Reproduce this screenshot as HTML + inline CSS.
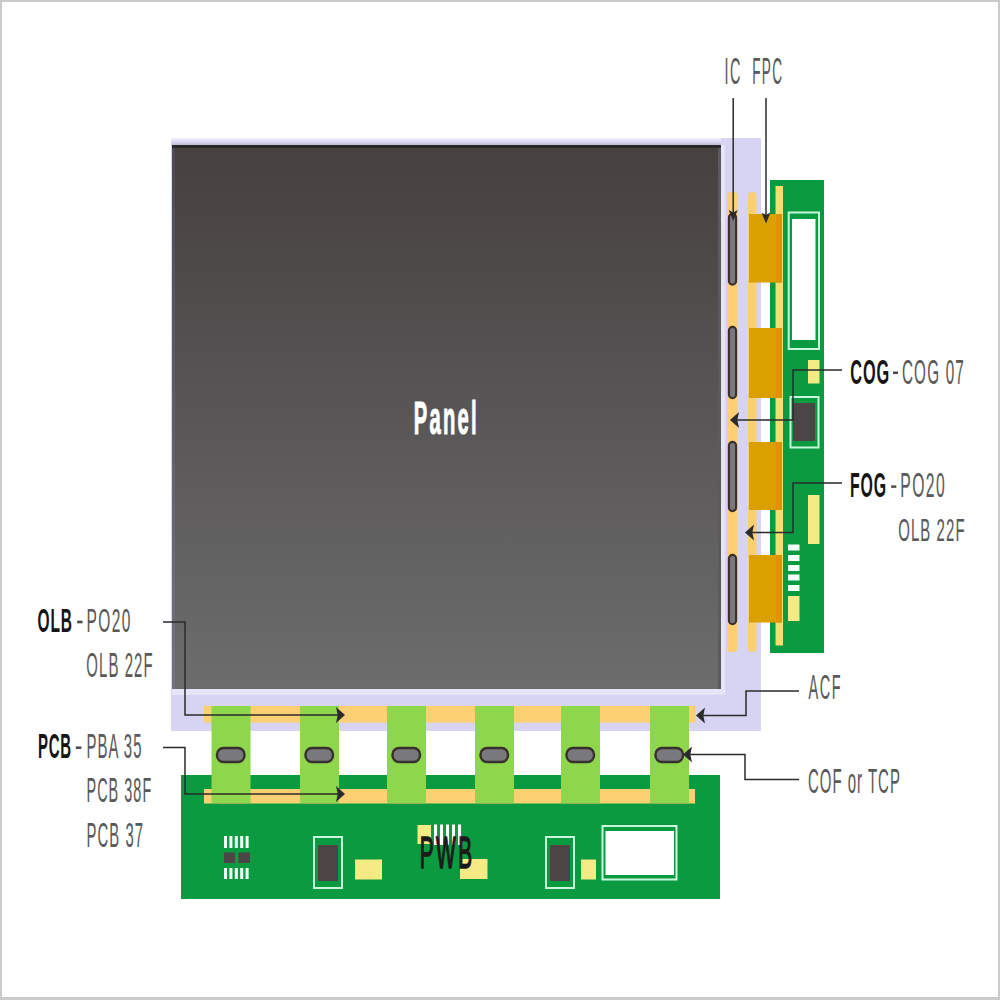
<!DOCTYPE html>
<html><head><meta charset="utf-8"><style>
html,body{margin:0;padding:0;background:#fff;}
body{width:1000px;height:1000px;overflow:hidden;}
svg{display:block;font-family:"Liberation Sans",sans-serif;}
</style></head><body>
<svg width="1000" height="1000" viewBox="0 0 1000 1000">
<defs>
<linearGradient id="lg" x1="0" y1="0" x2="0" y2="1">
<stop offset="0" stop-color="#f2f0fc"/>
<stop offset="0.5" stop-color="#dddbf4"/>
<stop offset="1" stop-color="#bfbcd8"/>
</linearGradient>
<linearGradient id="eg" x1="0" y1="0" x2="0" y2="1">
<stop offset="0" stop-color="#4e4a52"/>
<stop offset="1" stop-color="#74727e"/>
</linearGradient>
<linearGradient id="pg" x1="0" y1="0" x2="0" y2="1">
<stop offset="0" stop-color="#46403f"/>
<stop offset="0.5" stop-color="#595657"/>
<stop offset="1" stop-color="#6d6d6d"/>
</linearGradient>
</defs>
<rect x="0" y="0" width="1000" height="1000" fill="#ffffff"/>
<rect x="171" y="138" width="590.00" height="593.00" fill="#d6d4f2" />
<rect x="171" y="138" width="550.00" height="7.00" fill="url(#lg)" />
<rect x="172" y="145" width="553.00" height="550.00" fill="#e6e4f8" />
<rect x="172" y="145" width="549.00" height="544.00" fill="url(#pg)" />
<rect x="718" y="148" width="3.00" height="541.00" fill="#5c5a5e" />
<rect x="172" y="145" width="549.00" height="3.00" fill="#2c2729" />
<rect x="172" y="148" width="3.00" height="541.00" fill="url(#eg)" />
<rect x="727" y="192" width="10.50" height="460.00" fill="#fccf72" rx="4"/>
<rect x="748" y="192" width="8.50" height="460.00" fill="#fccf72" rx="4"/>
<rect x="770" y="180" width="54.00" height="473.00" fill="#0a9a40" />
<rect x="775.5" y="186" width="7.50" height="459.50" fill="#f7dc70" />
<rect x="749" y="214" width="33.00" height="68.50" fill="#d9a000" />
<rect x="776" y="214" width="6.00" height="68.50" fill="#e29200" />
<rect x="749" y="328" width="33.00" height="70.00" fill="#d9a000" />
<rect x="776" y="328" width="6.00" height="70.00" fill="#e29200" />
<rect x="749" y="442" width="33.00" height="68.00" fill="#d9a000" />
<rect x="776" y="442" width="6.00" height="68.00" fill="#e29200" />
<rect x="749" y="555" width="33.00" height="67.50" fill="#d9a000" />
<rect x="776" y="555" width="6.00" height="67.50" fill="#e29200" />
<rect x="728.9" y="213.9" width="7.20" height="70.70" fill="#78787d" rx="3.6" stroke="#38302c" stroke-width="2.1"/>
<rect x="728.9" y="326.9" width="7.20" height="71.20" fill="#78787d" rx="3.6" stroke="#38302c" stroke-width="2.1"/>
<rect x="728.9" y="441.9" width="7.20" height="69.20" fill="#78787d" rx="3.6" stroke="#38302c" stroke-width="2.1"/>
<rect x="728.9" y="554.9" width="7.20" height="69.20" fill="#78787d" rx="3.6" stroke="#38302c" stroke-width="2.1"/>
<rect x="787.7" y="211.5" width="32.30" height="138.50" fill="#c8f8dc" />
<rect x="789.7" y="213.5" width="28.30" height="134.50" fill="#0a9a40" />
<rect x="792" y="219" width="23.50" height="121.00" fill="#ffffff" />
<rect x="808" y="360" width="11.50" height="23.50" fill="#f6ea84" />
<rect x="789.5" y="396" width="30.00" height="52.50" fill="#c8f8dc" />
<rect x="791.5" y="398" width="26.00" height="48.50" fill="#0a9a40" />
<rect x="793" y="403" width="22.00" height="38.00" fill="#4b4545" />
<rect x="808" y="495" width="11.50" height="49.00" fill="#f6ea84" />
<rect x="788" y="544.5" width="11.50" height="6.00" fill="#f4fff8" />
<rect x="788" y="555" width="11.50" height="6.00" fill="#f4fff8" />
<rect x="788" y="565" width="11.50" height="6.00" fill="#f4fff8" />
<rect x="788" y="574.5" width="11.50" height="6.00" fill="#f4fff8" />
<rect x="788" y="585" width="11.50" height="6.00" fill="#f4fff8" />
<rect x="788" y="596" width="11.50" height="25.00" fill="#f6ea84" />
<rect x="204" y="706" width="492.00" height="16.50" fill="#fccf72" />
<rect x="181" y="775" width="539.00" height="124.00" fill="#0a9a40" />
<rect x="204" y="789" width="491.00" height="14.50" fill="#fccf72" />
<rect x="211.5" y="706" width="39.00" height="97.00" fill="#8ed64c" />
<rect x="217.0" y="748" width="27.50" height="14.00" fill="#78787d" rx="6.5" stroke="#38302c" stroke-width="2.4"/>
<rect x="300" y="706" width="39.00" height="97.00" fill="#8ed64c" />
<rect x="305.5" y="748" width="27.50" height="14.00" fill="#78787d" rx="6.5" stroke="#38302c" stroke-width="2.4"/>
<rect x="387" y="706" width="39.00" height="97.00" fill="#8ed64c" />
<rect x="392.5" y="748" width="27.50" height="14.00" fill="#78787d" rx="6.5" stroke="#38302c" stroke-width="2.4"/>
<rect x="475" y="706" width="39.00" height="97.00" fill="#8ed64c" />
<rect x="480.5" y="748" width="27.50" height="14.00" fill="#78787d" rx="6.5" stroke="#38302c" stroke-width="2.4"/>
<rect x="561" y="706" width="39.00" height="97.00" fill="#8ed64c" />
<rect x="566.5" y="748" width="27.50" height="14.00" fill="#78787d" rx="6.5" stroke="#38302c" stroke-width="2.4"/>
<rect x="650" y="706" width="39.00" height="97.00" fill="#8ed64c" />
<rect x="655.5" y="748" width="27.50" height="14.00" fill="#78787d" rx="6.5" stroke="#38302c" stroke-width="2.4"/>
<rect x="224.0" y="836" width="3.00" height="12.00" fill="#f4fff8" />
<rect x="224.0" y="868" width="3.00" height="11.00" fill="#f4fff8" />
<rect x="229.4" y="836" width="3.00" height="12.00" fill="#f4fff8" />
<rect x="229.4" y="868" width="3.00" height="11.00" fill="#f4fff8" />
<rect x="234.8" y="836" width="3.00" height="12.00" fill="#f4fff8" />
<rect x="234.8" y="868" width="3.00" height="11.00" fill="#f4fff8" />
<rect x="240.2" y="836" width="3.00" height="12.00" fill="#f4fff8" />
<rect x="240.2" y="868" width="3.00" height="11.00" fill="#f4fff8" />
<rect x="245.6" y="836" width="3.00" height="12.00" fill="#f4fff8" />
<rect x="245.6" y="868" width="3.00" height="11.00" fill="#f4fff8" />
<rect x="224" y="852.5" width="11.00" height="10.50" fill="#4b4545" />
<rect x="238.5" y="852.5" width="11.50" height="10.50" fill="#4b4545" />
<rect x="313" y="836" width="30.00" height="53.00" fill="#c8f8dc" />
<rect x="315" y="838" width="26.00" height="49.00" fill="#0a9a40" />
<rect x="318" y="845" width="20.00" height="36.00" fill="#4b4545" />
<rect x="545" y="836" width="30.00" height="53.00" fill="#c8f8dc" />
<rect x="547" y="838" width="26.00" height="49.00" fill="#0a9a40" />
<rect x="550" y="845" width="20.00" height="36.00" fill="#4b4545" />
<rect x="355" y="859.5" width="27.00" height="20.00" fill="#f6ea84" />
<rect x="417.5" y="825" width="13.50" height="19.00" fill="#f6ea84" />
<rect x="434" y="824.5" width="3.00" height="20.50" fill="#ffffff" />
<rect x="440" y="824.5" width="3.00" height="20.50" fill="#ffffff" />
<rect x="446" y="824.5" width="3.00" height="20.50" fill="#ffffff" />
<rect x="452" y="824.5" width="3.00" height="20.50" fill="#ffffff" />
<rect x="458" y="824.5" width="3.00" height="20.50" fill="#ffffff" />
<rect x="460" y="859" width="27.50" height="20.00" fill="#f6ea84" />
<rect x="581" y="859.5" width="15.00" height="20.00" fill="#f6ea84" />
<rect x="601.5" y="825" width="76.00" height="55.50" fill="#c8f8dc" />
<rect x="603.5" y="827" width="72.00" height="51.50" fill="#0a9a40" />
<rect x="605.5" y="831" width="68.50" height="44.00" fill="#ffffff" />
<path d="M733.2,98 V214" fill="none" stroke="#2b2b2b" stroke-width="1.5"/>
<path d="M733.2,221.0 L728.7,210.0 L733.2,212.5 L737.7,210.0 Z" fill="#2b2b2b"/>
<path d="M766,98 V216" fill="none" stroke="#2b2b2b" stroke-width="1.5"/>
<path d="M766.0,223.5 L761.5,212.5 L766.0,215.0 L770.5,212.5 Z" fill="#2b2b2b"/>
<path d="M842,370 H793 V420 H734" fill="none" stroke="#2b2b2b" stroke-width="1.5"/>
<path d="M730.0,420.0 L739.0,412.0 L737.3,420.0 L739.0,428.0 Z" fill="#2b2b2b"/>
<path d="M842,483 H793 V532.5 H749" fill="none" stroke="#2b2b2b" stroke-width="1.5"/>
<path d="M745.0,532.5 L754.0,524.5 L752.3,532.5 L754.0,540.5 Z" fill="#2b2b2b"/>
<path d="M163,622 H185 V715 H341" fill="none" stroke="#2b2b2b" stroke-width="1.5"/>
<path d="M345.0,715.0 L336.0,707.0 L337.7,715.0 L336.0,723.0 Z" fill="#2b2b2b"/>
<path d="M163,747.5 H185 V794 H341" fill="none" stroke="#2b2b2b" stroke-width="1.5"/>
<path d="M345.0,794.0 L336.0,786.0 L337.7,794.0 L336.0,802.0 Z" fill="#2b2b2b"/>
<path d="M799,691 H746 V715.5 H700" fill="none" stroke="#2b2b2b" stroke-width="1.5"/>
<path d="M696.0,715.5 L705.0,707.5 L703.3,715.5 L705.0,723.5 Z" fill="#2b2b2b"/>
<path d="M799,779.5 H745 V754.5 H687" fill="none" stroke="#2b2b2b" stroke-width="1.5"/>
<path d="M683.0,754.5 L692.0,746.5 L690.3,754.5 L692.0,762.5 Z" fill="#2b2b2b"/>
<text transform="scale(0.3959,1)" x="1830.03" y="84.00" font-size="36.34" font-weight="400" fill="#595959" stroke="#595959" stroke-width="0.12" letter-spacing="3.511">IC</text>
<text transform="scale(0.3742,1)" x="2010.00" y="84.00" font-size="36.34" font-weight="400" fill="#595959" stroke="#595959" stroke-width="0.12" letter-spacing="3.795">FPC</text>
<text transform="scale(0.4632,1)" x="1835.74" y="384.00" font-size="35.18" font-weight="700" fill="#151515" letter-spacing="2.013">COG</text>
<text transform="scale(0.4333,1)" x="2081.46" y="384.00" font-size="35.18" font-weight="400" fill="#595959" stroke="#595959" stroke-width="0.12" letter-spacing="2.788">COG 07</text>
<text transform="scale(0.4641,1)" x="1831.43" y="497.00" font-size="34.16" font-weight="700" fill="#151515" letter-spacing="1.832">FOG</text>
<text transform="scale(0.4597,1)" x="1958.32" y="497.00" font-size="34.16" font-weight="400" fill="#595959" stroke="#595959" stroke-width="0.12" letter-spacing="3.082">PO20</text>
<text transform="scale(0.4673,1)" x="1922.14" y="541.00" font-size="31.98" font-weight="400" fill="#595959" stroke="#595959" stroke-width="0.12" letter-spacing="2.318">OLB 22F</text>
<text transform="scale(0.4099,1)" x="1972.69" y="699.30" font-size="35.32" font-weight="400" fill="#595959" stroke="#595959" stroke-width="0.12" letter-spacing="3.842">ACF</text>
<text transform="scale(0.4292,1)" x="1882.47" y="792.70" font-size="34.88" font-weight="400" fill="#595959" stroke="#595959" stroke-width="0.12" letter-spacing="2.348">COF or TCP</text>
<text transform="scale(0.4735,1)" x="79.33" y="632.00" font-size="32.70" font-weight="700" fill="#151515" letter-spacing="1.742">OLB</text>
<text transform="scale(0.4745,1)" x="182.16" y="632.00" font-size="32.70" font-weight="400" fill="#595959" stroke="#595959" stroke-width="0.12" letter-spacing="2.951">PO20</text>
<text transform="scale(0.4197,1)" x="205.63" y="677.00" font-size="35.61" font-weight="400" fill="#595959" stroke="#595959" stroke-width="0.12" letter-spacing="2.582">OLB 22F</text>
<text transform="scale(0.4291,1)" x="88.55" y="758.00" font-size="34.88" font-weight="700" fill="#151515" letter-spacing="1.835">PCB</text>
<text transform="scale(0.4264,1)" x="202.80" y="758.00" font-size="34.88" font-weight="400" fill="#595959" stroke="#595959" stroke-width="0.12" letter-spacing="2.533">PBA 35</text>
<text transform="scale(0.4130,1)" x="209.46" y="802.50" font-size="34.88" font-weight="400" fill="#595959" stroke="#595959" stroke-width="0.12" letter-spacing="2.542">PCB 38F</text>
<text transform="scale(0.4258,1)" x="203.08" y="846.70" font-size="34.88" font-weight="400" fill="#595959" stroke="#595959" stroke-width="0.12" letter-spacing="2.569">PCB 37</text>
<text transform="scale(0.4417,1)" x="936.51" y="434.00" font-size="45.79" font-weight="700" fill="#ffffff" stroke="#ffffff" stroke-width="1.1" letter-spacing="5.111">Panel</text>
<text transform="scale(0.4689,1)" x="895.25" y="868.50" font-size="44.33" font-weight="400" fill="#1a1a1a" stroke="#1a1a1a" stroke-width="1.6" letter-spacing="5.278">PWB</text>
<rect x="893" y="371.55" width="5.00" height="2.5" fill="#4a4a4a"/>
<rect x="891.2" y="485.35" width="5.10" height="2.5" fill="#4a4a4a"/>
<rect x="77.2" y="620.70" width="5.30" height="2.6" fill="#4a4a4a"/>
<rect x="75.8" y="746.45" width="5.60" height="2.5" fill="#4a4a4a"/>
<rect x="0" y="0" width="1000" height="2" fill="#cacaca"/><rect x="0" y="0" width="2" height="1000" fill="#cacaca"/><rect x="998" y="0" width="2" height="1000" fill="#cacaca"/><rect x="0" y="997" width="1000" height="3" fill="#cacaca"/>
</svg>
</body></html>
